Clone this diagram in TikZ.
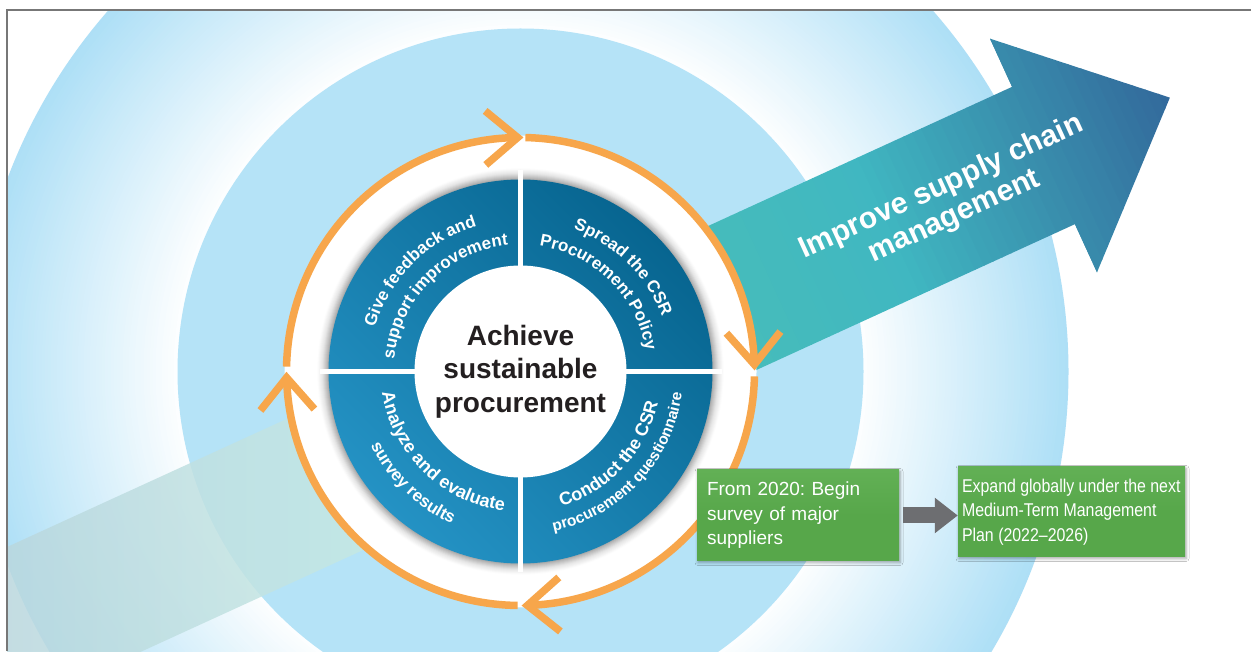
\documentclass[tikz,border=0pt]{standalone}
\usepackage{fontspec}
\setmainfont{Liberation Sans}
\usetikzlibrary{decorations.text,shadows.blur,arrows.meta}
\frenchspacing
\definecolor{ringblue}{HTML}{ADDFF6}
\colorlet{ringinner}{white!97!ringblue}
\definecolor{midblue}{HTML}{B5E3F7}
\definecolor{orangec}{HTML}{F7A64B}
\definecolor{diskL}{HTML}{2492C4}
\definecolor{diskM}{HTML}{0C72A1}
\definecolor{diskD}{HTML}{076590}
\definecolor{arrA}{HTML}{4DC2B4}
\definecolor{arrB}{HTML}{40B7C1}
\definecolor{arrD}{HTML}{32679A}
\definecolor{tailA}{HTML}{B4CFDC}
\definecolor{tailB}{HTML}{C8ECE4}
\definecolor{boxgreen}{HTML}{57A74A}
\definecolor{boxgreenL}{HTML}{62B055}
\definecolor{grayarrow}{HTML}{6D6E71}
\definecolor{framegray}{HTML}{777777}
\definecolor{darktext}{HTML}{231F20}
\newcommand\qfont{\bfseries\fontsize{17}{17}\selectfont}
\newcommand\qfontb{\bfseries\fontsize{18}{18}\selectfont}
\newcommand\qfonts{\bfseries\fontsize{15.5}{15.5}\selectfont}
\tikzset{
  orng/.style={draw=orangec, line width=7.5pt},
  gbox/.style={top color=boxgreenL, bottom color=boxgreen, middle color=boxgreen, text=white, align=left, anchor=center,
     blur shadow={shadow xshift=1pt, shadow yshift=-1.5pt, shadow blur radius=3pt, shadow opacity=35}},
  qtext/.style={decorate, decoration={text along path, text align=center, text color=white, text={#1}}}
}
\begin{document}
\begin{tikzpicture}[x=1pt,y=1pt]
\useasboundingbox (0,0) rectangle (1251,651);
\fill[white] (0,0) rectangle (1251,651);
\coordinate (C) at (520.5,279.5);
\begin{scope}
\clip (7,0) rectangle (1251,641);
% outer gradient ring
\foreach \r in {548,545,...,344}{
  \pgfmathtruncatemacro{\p}{min(100,max(0,(\r-343)/2.05))}
  \fill[ringblue!\p!ringinner] (C) circle[radius=\r];
}
\fill[midblue] (C) circle[radius=343];
% big arrow
\begin{scope}[shift={(1043.5,495.5)}, rotate=24.6]
  \shade[left color=tailA, right color=tailB, opacity=0.85] (-1300,-75.5) rectangle (-690,75.5);
  \begin{scope}
    \clip (-700,-75.5) -- (0,-75.5) -- (0,-128.5) -- (139,0) -- (0,128.5) -- (0,75.5) -- (-700,75.5) -- cycle;
    \foreach \i in {0,...,84}{
      \pgfmathsetmacro{\xa}{-700+10*\i}
      \pgfmathtruncatemacro{\qa}{min(100,max(0,(\xa+560)/3.8))}
      \pgfmathtruncatemacro{\qb}{min(100,max(0,(\xa+180)/3.2))}
      \ifnum\qb>0 \colorlet{sc}{arrD!\qb!arrB}\else\colorlet{sc}{arrB!\qa!arrA}\fi
      \fill[sc] (\xa,-130) rectangle ++(10.6,260);
    }
  \end{scope}
\end{scope}
\node[rotate=24.6, text=white, align=center, font=\bfseries\fontsize{30}{32}\selectfont] (improve) at (948,449) {Improve supply chain\\management};
% white ring area and disk
\fill[white] (C) circle[radius=236];
\foreach \r in {206,205,...,193}{
  \pgfmathtruncatemacro{\p}{(206-\r)*(206-\r)/5}
  \fill[black!\p!white] (C) circle[radius=\r];
}
\shade[top color=diskL, middle color=diskM, bottom color=diskD, shading angle=135] (C) circle[radius=192];
\draw[white, line width=5.5pt] ([yshift=-201]C) -- ([yshift=201]C);
\draw[white, line width=5.5pt] ([xshift=-201]C) -- ([xshift=201]C);
\node[circle, fill=white, minimum size=212pt, inner sep=0pt, align=center, text=darktext,
      font=\bfseries\fontsize{28}{33.5}\selectfont] (core) at (C) {Achieve\\sustainable\\procurement};
% orange cycle
\foreach \a/\b in {178.8/90.7, 88.8/1.7, -1.2/-88.3, -90.7/-178.5}
  \draw[orng] (C) ++(\a:234) arc[start angle=\a, end angle=\b, radius=234];
\foreach \t in {90.7, 1.7, -88.3, 181.5}{
  \pgfmathsetmacro{\ta}{\t+50}
  \pgfmathsetmacro{\tb}{\t-230}
  \path (C) ++(\t:234) coordinate (ap);
  \draw[orng, line join=miter] (ap) ++(\ta:42) -- (ap) -- ++(\tb:42);
}
% quadrant texts
\path[qtext={|\qfont|Give feedback and}] (C) ++(179:152) arc[start angle=179, end angle=91, radius=152];
\path[qtext={|\qfont|support improvement}] (C) ++(181:127) arc[start angle=181, end angle=89, radius=127];
\path[qtext={|\qfont|Spread the CSR}] (C) ++(89.5:152) arc[start angle=89.5, end angle=1.5, radius=152];
\path[qtext={|\qfont|Procurement Policy}] (C) ++(91.5:127) arc[start angle=91.5, end angle=-0.5, radius=127];
\path[qtext={|\qfontb|Conduct the CSR}] (C) ++(-88:141) arc[start angle=-88, end angle=2, radius=141];
\path[qtext={|\qfonts|procurement questionnaire}] (C) ++(-90:163) arc[start angle=-90, end angle=4, radius=163];
\path[qtext={|\qfontb|Analyze and evaluate}] (C) ++(-180:140) arc[start angle=-180, end angle=-88, radius=140];
\path[qtext={|\qfont|survey results}] (C) ++(-178:167) arc[start angle=-178, end angle=-90, radius=167];
% green boxes
\node[gbox, minimum width=202pt, minimum height=91pt, text width=182pt, inner xsep=10pt,
      font=\fontsize{19}{24.5}\selectfont] (b1) at (798,135.5) {From 2020: Begin\\survey of major\\suppliers};
\node[gbox, minimum width=227pt, minimum height=90pt, inner xsep=4pt, inner ysep=0pt,
      font=\fontsize{18.5}{24.5}\selectfont] (b2) at (1071.5,139)
      {\makebox[219pt][l]{\scalebox{0.86}[1]{\begin{tabular}{@{}l@{}}Expand globally under the next\\Medium-Term Management\\Plan (2022–2026)\end{tabular}}}};
\draw[grayarrow, line width=16pt, -{Triangle[length=23pt, width=34pt]}] ([xshift=4pt]b1.east) -- (b2.west |- b1.east);
\end{scope}
\draw[framegray, line width=1.6pt] (7,0) -- (7,641) -- (1251,641);
\end{tikzpicture}
\end{document}
